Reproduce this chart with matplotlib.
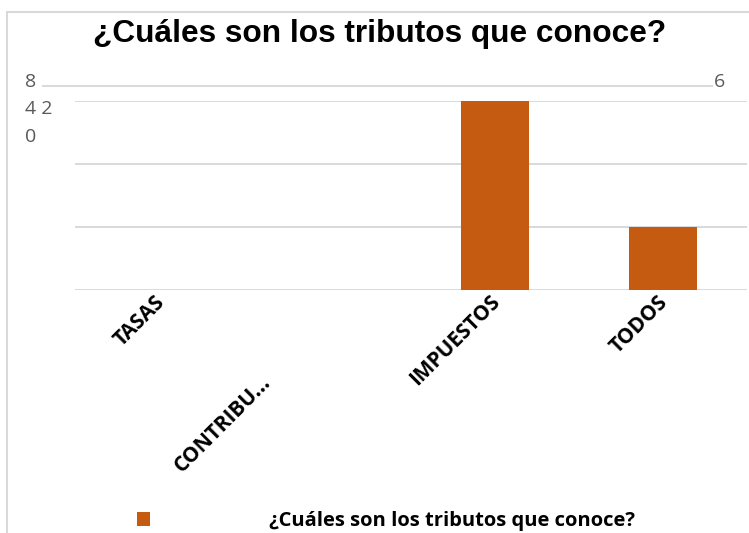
import matplotlib
matplotlib.use("Agg")
import matplotlib.pyplot as plt
import matplotlib.transforms as mtransforms
from matplotlib.lines import Line2D
from matplotlib.patches import Rectangle

# data
categories = ["TASAS", "CONTRIBU...", "IMPUESTOS", "TODOS"]
values = [0, 0, 6, 2]
series_name = "¿Cuáles son los tributos que conoce?"
title = "¿Cuáles son los tributos que conoce?"
y_ticks = [0, 2, 4, 6]
# the stray axis labels as they appear in the picture
left_labels = ["8", "4 2", "0"]
right_label = "6"

BAR = "#C55A11"
GRID = "#D9D9D9"
GRAY = "#595959"

W, H = 749, 533
fig = plt.figure(figsize=(W / 100, H / 100), dpi=100)

# outer chart frame (runs off the right and bottom edges)
fig.patches.append(Rectangle((7 / W, -0.1), 1.2, 1.1 - 12 / H,
                             transform=fig.transFigure, fill=False,
                             edgecolor=GRID, lw=1.5))

ax = fig.add_axes([75 / W, (H - 290) / H, (747 - 75) / W, (290 - 101) / H])
x = list(range(len(categories)))
bars = ax.bar(x, values, width=0.405, color=BAR, label=series_name, zorder=3)

ax.set_xlim(-0.5, len(categories) - 0.5)
ax.set_ylim(0, 6)
ax.set_yticks(y_ticks)
ax.yaxis.grid(True, color=GRID, lw=1.4, zorder=0)
ax.tick_params(axis="y", length=0, labelleft=False)
for s in ax.spines.values():
    s.set_visible(False)

ax.set_xticks(x)
ax.set_xticklabels(categories, rotation=45, ha="right", va="top",
                   fontsize=15, fontweight="bold", family="Open Sans")
ax.tick_params(axis="x", length=0, pad=1)
# Excel staggered the long label downwards
label_shift = [(10, 0), (-52, -80), (9, 0), (9, 0)]
for lab, (dx, dy) in zip(ax.get_xticklabels(), label_shift):
    off = mtransforms.ScaledTranslation(dx / 100, dy / 100, fig.dpi_scale_trans)
    lab.set_transform(lab.get_transform() + off)

# stray top line and mis-placed value labels
fig.lines.append(Line2D([43 / W, 712 / W], [(H - 86) / H] * 2,
                        transform=fig.transFigure, color=GRID, lw=1.4))
label_y = [82, 109, 137]
label_x = [25, 25, 25]
for t, lx, ly in zip(left_labels, label_x, label_y):
    fig.text(lx / W, (H - ly) / H, t, fontsize=14, color=GRAY,
             family="Open Sans", ha="left", va="center")
fig.text(714 / W, (H - 82) / H, right_label, fontsize=14, color=GRAY,
         family="Open Sans", ha="left", va="center")

fig.text(380 / W, (H - 42) / H, title, fontsize=22.8, fontweight="bold",
         family="Liberation Sans", ha="center", va="baseline")

fig.legend(handles=[bars], labels=[series_name], loc="center left",
           bbox_to_anchor=(137 / W, (H - 521) / H), frameon=False,
           borderpad=0, borderaxespad=0, handlelength=0.65,
           handleheight=0.65, handletextpad=5.9,
           prop={"family": "Open Sans", "weight": "bold", "size": 14.5})

fig.savefig("out.png", dpi=100)
